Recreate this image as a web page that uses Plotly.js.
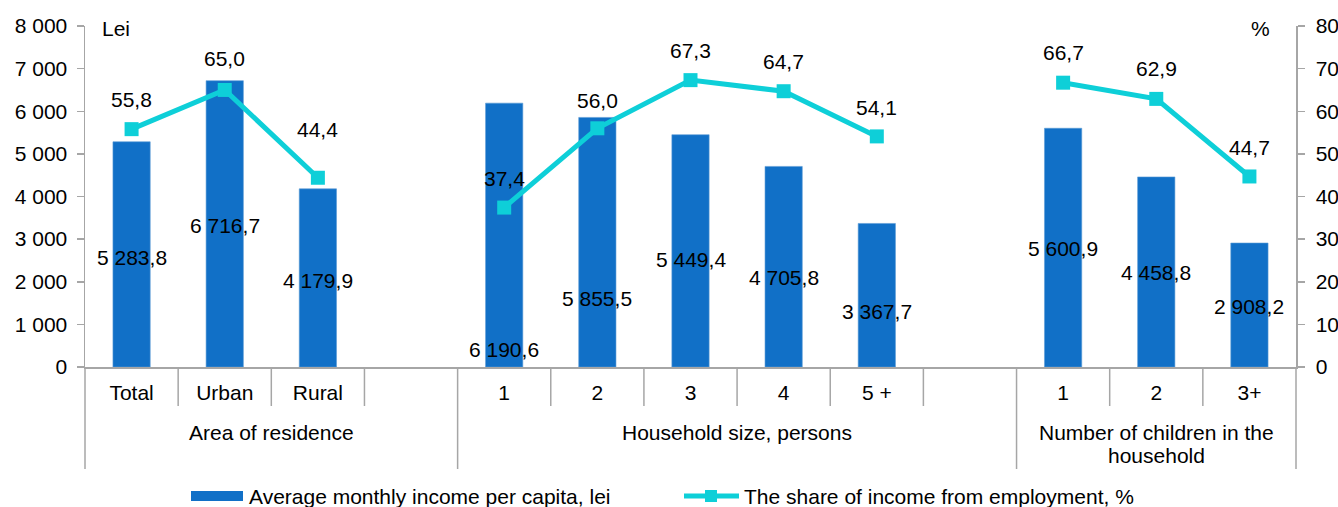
<!DOCTYPE html>
<html><head><meta charset="utf-8">
<script src="https://cdn.plot.ly/plotly-3.0.1.min.js"></script>
<style>html,body{margin:0;padding:0;background:#fff}#chart{width:1338px;height:507px}</style>
</head><body><div id="chart"></div>
<script>
// ---- data ----
const categories = ['Total','Urban','Rural','','1','2','3','4','5 +','','1','2','3+'];
const groupLabels = ['Area of residence','Household size, persons','Number of children in the<br>household'];
const groupFirst = [0, 4, 10];
const groupLast = [3, 9, 12];
const income = [5283.8, 6716.7, 4179.9, null, 6190.6, 5855.5, 5449.4, 4705.8, 3367.7, null, 5600.9, 4458.8, 2908.2];
const share = [55.8, 65.0, 44.4, null, 37.4, 56.0, 67.3, 64.7, 54.1, null, 66.7, 62.9, 44.7];
const seriesNames = ['Average monthly income per capita, lei', 'The share of income from employment, %'];
const leftUnit = 'Lei', rightUnit = '%';

// ---- label placement (layout, not data) ----
const incomeLabelY = [2580, 3330, 2040, null, 400, 1600, 2530, 2100, 1310, null, 2770, 2210, 1430];
const shareLabelShift = [30, 31, 48, null, 29, 28, 30, 30, 29, null, 30, 30, 29];

// ---- geometry ----
const W = 1338, H = 507, L = 85, R = 42, T = 26, B = 140;
const PW = W - L - R, PH = H - T - B;
const px = x => (x - L) / PW;
const py = y => (H - B - y) / PH;
const N = categories.length;

const BAR = '#1170c7', LINE = '#0ecfd8', AX = '#a6a6a6';
const FONT = 'Liberation Sans, Arial, sans-serif';
const FS = 21;

function fmt(v) {
  const s = v.toFixed(1).split('.');
  return s[0].replace(/\B(?=(\d{3})+(?!\d))/g, ' ') + ',' + s[1];
}

const xs = categories.map((_, i) => i);
const tickIdx = xs.filter(i => categories[i] !== '');

const traces = [
  {type: 'bar', x: xs, y: income, width: 0.4, name: seriesNames[0],
   marker: {color: BAR, line: {color: '#5b9bd5', width: 0.6}}, yaxis: 'y', hoverinfo: 'skip'},
  {type: 'scatter', mode: 'lines+markers', x: xs, y: share, name: seriesNames[1], yaxis: 'y2',
   connectgaps: false, line: {color: LINE, width: 5},
   marker: {symbol: 'square', size: 14, color: LINE}, hoverinfo: 'skip'}
];

const tf = {size: FS, color: '#000'};
const annotations = [];
xs.forEach(i => {
  if (income[i] != null) annotations.push({x: i, y: incomeLabelY[i], xref: 'x', yref: 'y',
    text: fmt(income[i]), showarrow: false, font: tf});
  if (share[i] != null) annotations.push({x: i, y: share[i], xref: 'x', yref: 'y2',
    yshift: shareLabelShift[i], text: fmt(share[i]), showarrow: false, font: tf});
});
groupLabels.forEach((g, k) => {
  const cx = ((groupFirst[k] + groupLast[k] + 1) / 2) / N;
  g.split('<br>').forEach((line, j) => {
    annotations.push({xref: 'paper', yref: 'paper', x: cx, y: py(432 + 23 * j), xanchor: 'center', yanchor: 'middle',
      text: line, showarrow: false, font: tf});
  });
});
annotations.push({xref: 'paper', yref: 'paper', x: px(100), y: py(28), xanchor: 'left', yanchor: 'middle',
  text: leftUnit, showarrow: false, font: tf});
annotations.push({xref: 'paper', yref: 'paper', x: px(1260), y: py(28), xanchor: 'center', yanchor: 'middle',
  text: rightUnit, showarrow: false, font: tf});
// legend text
annotations.push({xref: 'paper', yref: 'paper', x: px(247), y: py(496), xanchor: 'left', yanchor: 'middle',
  text: seriesNames[0], showarrow: false, font: tf});
annotations.push({xref: 'paper', yref: 'paper', x: px(742), y: py(496), xanchor: 'left', yanchor: 'middle',
  text: seriesNames[1], showarrow: false, font: tf});

const shapes = [];
const longB = [0, groupFirst[1], groupFirst[2], N];
for (let b = 0; b <= N; b++) {
  const isLong = longB.includes(b);
  shapes.push({type: 'line', xref: 'paper', yref: 'paper', x0: b / N, x1: b / N,
    y0: 0, y1: py(isLong ? 469 : 406), line: {color: AX, width: 1.5}});
}
// legend symbols
shapes.push({type: 'rect', xref: 'paper', yref: 'paper', x0: px(191), x1: px(243), y0: py(501), y1: py(491),
  fillcolor: BAR, line: {width: 0}});
shapes.push({type: 'line', xref: 'paper', yref: 'paper', x0: px(684), x1: px(739), y0: py(496), y1: py(496),
  line: {color: LINE, width: 5}});
shapes.push({type: 'rect', xref: 'paper', yref: 'paper', x0: px(705), x1: px(717), y0: py(502), y1: py(490),
  fillcolor: LINE, line: {width: 0}});

const yCommon = {showgrid: false, zeroline: false, showline: true, linecolor: AX, linewidth: 1.5,
  ticks: 'outside', ticklen: 7, tickcolor: AX, tickwidth: 1.5, tickfont: tf, fixedrange: true};

const layout = {
  width: W, height: H, margin: {l: L, r: R, t: T, b: B, pad: 0},
  paper_bgcolor: '#fff', plot_bgcolor: '#fff',
  font: {family: FONT, size: FS, color: '#000'},
  separators: ', ',
  showlegend: false,
  bargap: 0,
  xaxis: {range: [-0.5, N - 0.5], tickmode: 'array', tickvals: tickIdx, ticktext: tickIdx.map(i => categories[i]),
    ticks: '', showgrid: false, zeroline: false, showline: true, linecolor: AX, linewidth: 1.5,
    tickfont: tf, ticklabelstandoff: 6, fixedrange: true},
  yaxis: Object.assign({}, yCommon, {range: [0, 8000], dtick: 1000, tick0: 0, separatethousands: true, ticklabelstandoff: 5}),
  yaxis2: Object.assign({}, yCommon, {range: [0, 80], dtick: 10, tick0: 0, overlaying: 'y', side: 'right', ticklabelstandoff: 7}),
  annotations: annotations,
  shapes: shapes
};

Plotly.newPlot('chart', traces, layout, {staticPlot: true, displayModeBar: false});
</script>
</body></html>
